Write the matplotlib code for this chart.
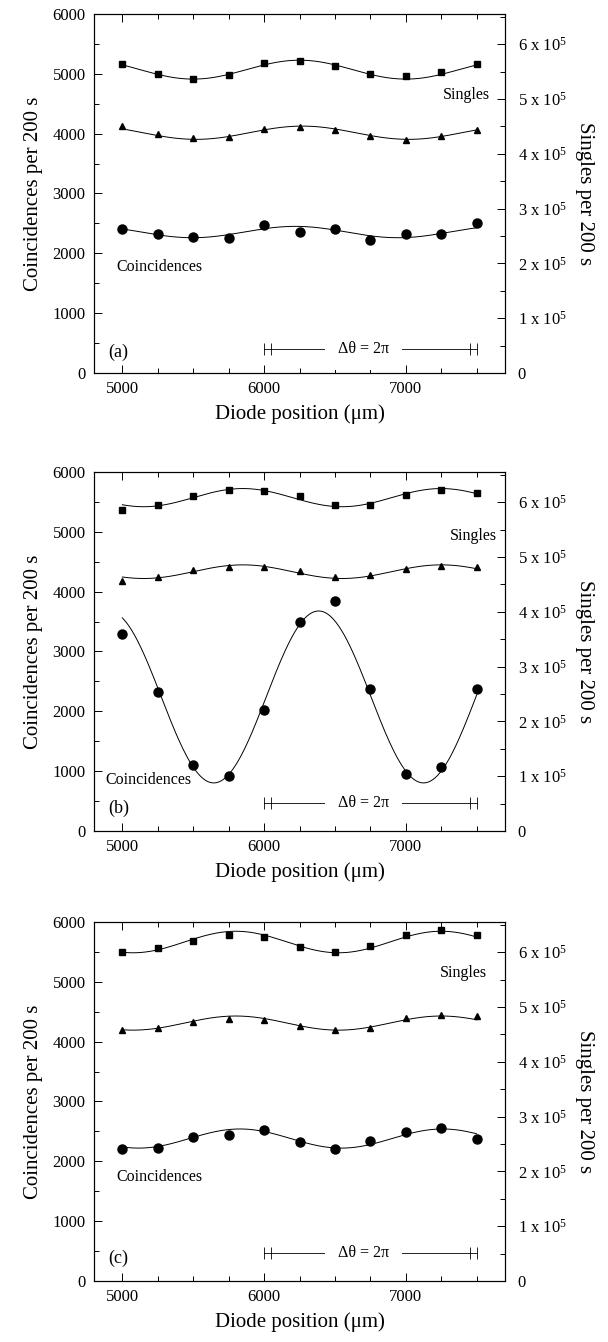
import numpy as np
import matplotlib
matplotlib.use("Agg")
import matplotlib.pyplot as plt
from matplotlib.ticker import MultipleLocator, FuncFormatter

plt.rcParams['font.family'] = ['Liberation Serif', 'DejaVu Serif']
plt.rcParams['mathtext.fontset'] = 'custom'
plt.rcParams['mathtext.rm'] = 'Liberation Serif'
plt.rcParams['mathtext.it'] = 'Liberation Serif:italic'

# diode positions (um)
pos = [5000, 5250, 5500, 5750, 6000, 6250, 6500, 6750, 7000, 7250, 7500]

# panel (a)
sq_a = [564500, 545200, 536200, 542800, 566400, 570000, 559700, 545800, 541000, 548200, 563300]
tri_a = [449800, 435900, 428100, 431100, 445600, 448000, 442600, 432300, 425100, 431800, 443200]
coinc_a = [2406, 2317, 2268, 2257, 2478, 2356, 2411, 2223, 2317, 2329, 2500]

# panel (b)
sq_b = [586100, 594500, 610400, 622500, 620600, 611600, 594500, 595200, 613300, 621300, 617000]
tri_b = [456500, 463700, 475900, 482500, 481300, 473500, 462600, 466300, 478400, 483200, 480800]
coinc_b = [3300, 2318, 1104, 915, 2019, 3494, 3838, 2379, 960, 1065, 2374]

# panel (c)
sq_c = [600000, 607900, 620500, 632000, 628400, 609600, 599300, 610300, 630800, 641200, 632000]
tri_c = [457900, 461500, 472400, 478400, 476600, 465100, 457200, 462100, 479600, 485000, 482600]
coinc_c = [2205, 2227, 2410, 2438, 2526, 2316, 2199, 2332, 2493, 2554, 2371]

# fitted sinusoids: offset, amplitude, period, position of maximum
fit_sq_a = [553400, 17250, 1500, 6250]
fit_tri_a = [438300, 12100, 1500, 6270]
fit_coinc_a = [2355, 95, 1450, 6220]
fit_sq_b = [608200, 16600, 1400, 5850]
fit_tri_b = [473100, 12450, 1400, 5850]
fit_coinc_b = [2240, 1437, 1480, 6385]
fit_sq_c = [618400, 19650, 1450, 5800]
fit_tri_c = [470500, 12900, 1450, 5800]
fit_coinc_c = [2380, 160, 1430, 5830]

right_ticks = [0, 100000, 200000, 300000, 400000, 500000, 600000]


def fit_curve(xx, p):
    off, amp, per, xm = p
    return off + amp * np.cos(2 * np.pi * (xx - xm) / per)


def right_fmt(v, i):
    n = int(round(v / 1e5))
    if n == 0:
        return "0"
    return r"%d x 10$^{\mathregular{5}}$" % n


panels = [
    ("(a)", sq_a, tri_a, coinc_a, fit_sq_a, fit_tri_a, fit_coinc_a,
     (7427, 4646), (5260, 1770), 340, 400, 0.7221),
    ("(b)", sq_b, tri_b, coinc_b, fit_sq_b, fit_tri_b, fit_coinc_b,
     (7474, 4935), (5186, 860), 384, 473, 0.3808),
    ("(c)", sq_c, tri_c, coinc_c, fit_sq_c, fit_tri_c, fit_coinc_c,
     (7405, 5141), (5260, 1745), 384, 473, 0.0455),
]

fig = plt.figure(figsize=(6.08, 13.42), dpi=100)
xx = np.linspace(5000, 7500, 400)

for (lab, sq, tri, co, fsq, ftri, fco, s_xy, c_xy, lab_y, bar_y, bot) in panels:
    ax = fig.add_axes([0.1546, bot, 0.676, 0.2675])
    ax2 = ax.twinx()

    ax.plot(xx, fit_curve(xx, fco), color='k', lw=0.7)
    ax.plot(pos, co, 'o', color='k', ms=6.5)
    ax2.plot(xx, fit_curve(xx, fsq), color='k', lw=0.7)
    ax2.plot(pos, sq, 's', color='k', ms=4.2)
    ax2.plot(xx, fit_curve(xx, ftri), color='k', lw=0.7)
    ax2.plot(pos, tri, '^', color='k', ms=4.2)

    ax.set_xlim(4800, 7700)
    ax.set_ylim(0, 6000)
    ax2.set_ylim(0, 655000)

    ax.xaxis.set_major_locator(MultipleLocator(1000))
    ax.xaxis.set_minor_locator(MultipleLocator(250))
    ax.yaxis.set_major_locator(MultipleLocator(1000))
    ax.yaxis.set_minor_locator(MultipleLocator(500))
    ax2.set_yticks(right_ticks)
    ax2.yaxis.set_minor_locator(MultipleLocator(50000))
    ax2.yaxis.set_major_formatter(FuncFormatter(right_fmt))

    ax.tick_params(which='both', direction='in', top=True, right=False,
                   labelsize=12, width=0.7)
    ax.tick_params(which='major', length=6, pad=6)
    ax.tick_params(which='minor', length=3.5)
    ax2.tick_params(which='both', direction='in', labelsize=12, width=0.7)
    ax2.tick_params(which='major', length=6, pad=9)
    ax2.tick_params(which='minor', length=3.5)
    for a in (ax, ax2):
        for sp in a.spines.values():
            sp.set_linewidth(0.8)

    ax.set_xlabel("Diode position (\u03bcm)", fontsize=15, labelpad=5)
    ax.set_ylabel("Coincidences per 200 s", fontsize=15, labelpad=7)
    ax2.set_ylabel("Singles per 200 s", fontsize=15, rotation=270, labelpad=20)

    ax.text(s_xy[0], s_xy[1], "Singles", fontsize=11.5, ha='center', va='center')
    ax.text(c_xy[0], c_xy[1], "Coincidences", fontsize=11.5, ha='center', va='center')
    ax.text(4972, lab_y, lab, fontsize=13, ha='center', va='center')

    # delta theta = 2 pi marker
    ax.plot([6000, 7500], [bar_y, bar_y], color='k', lw=0.6)
    ax.vlines([6000, 6050, 7450, 7500], bar_y - 100, bar_y + 100, color='k', lw=0.6)
    ax.text(6700, bar_y, "\u0394\u03b8 = 2\u03c0", fontsize=11.5, ha='center', va='center',
            bbox=dict(boxstyle='square,pad=0.8', fc='white', ec='none'))

fig.savefig("out.png", dpi=100)
